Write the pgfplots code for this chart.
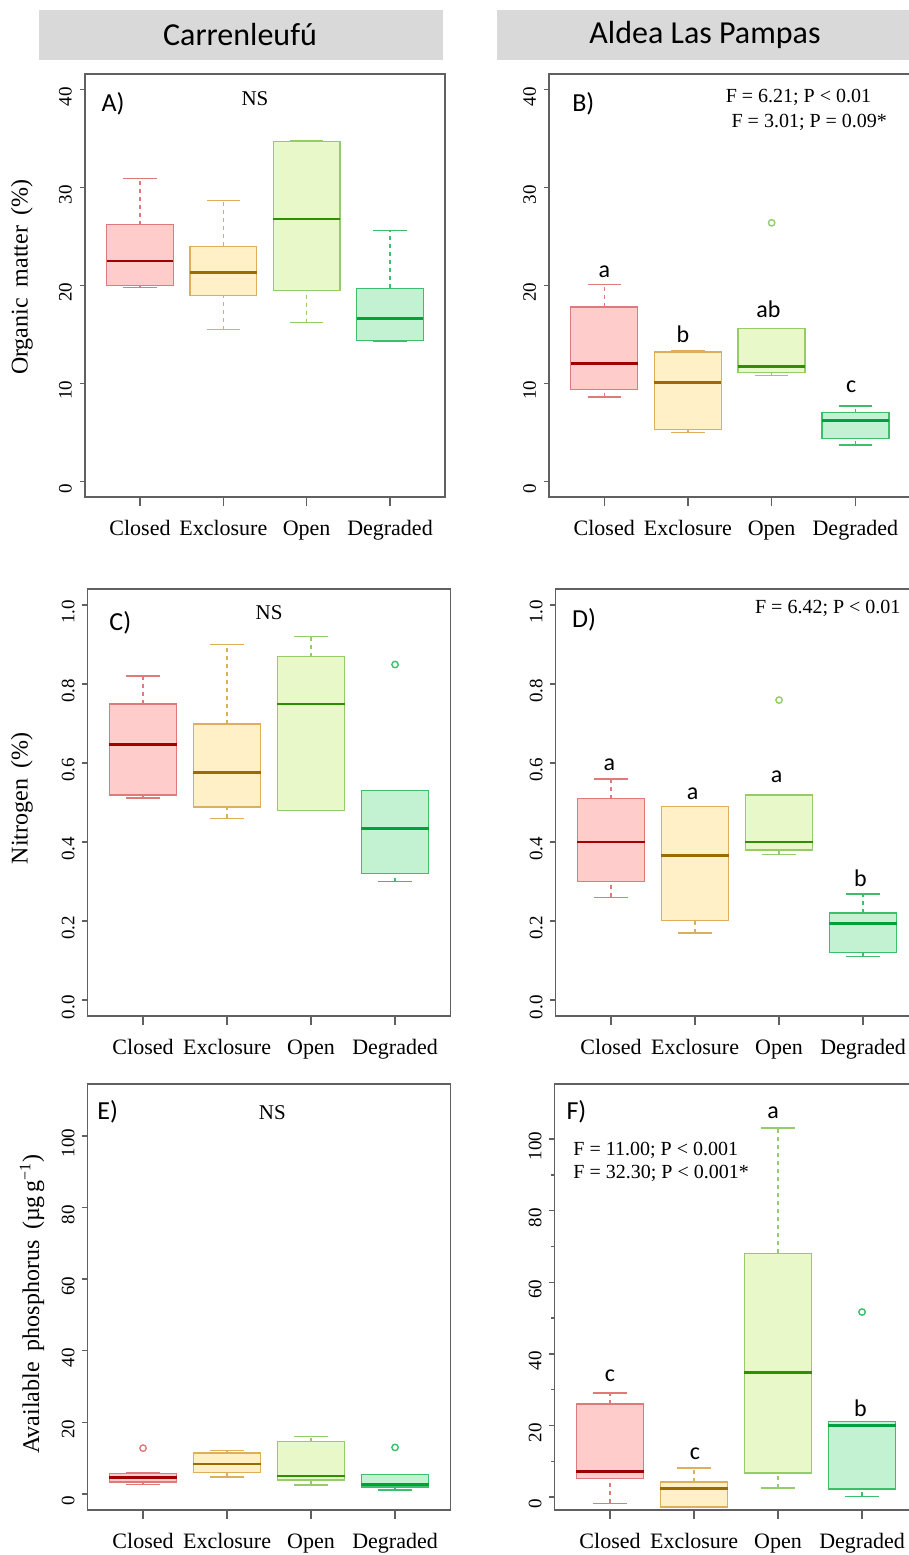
\documentclass[border=0pt]{standalone}
\usepackage{fontspec}
\setmainfont{Liberation Serif}
\newfontfamily\calfont{Carlito}
\usepackage{pgfplots}
\pgfplotsset{compat=1.18}
\usepgfplotslibrary{statistics}

\definecolor{framegray}{HTML}{606060}
\definecolor{hdrgray}{HTML}{D9D9D9}
\definecolor{cFill}{HTML}{FFCCCC}\definecolor{cLine}{HTML}{E07A7A}\definecolor{cMed}{HTML}{A00000}
\definecolor{eFill}{HTML}{FFF0C8}\definecolor{eLine}{HTML}{DDAE5C}\definecolor{eMed}{HTML}{9C6B00}
\definecolor{oFill}{HTML}{E8F8C8}\definecolor{oLine}{HTML}{96CC68}\definecolor{oMed}{HTML}{2F8F00}
\definecolor{dFill}{HTML}{C2F2D2}\definecolor{dLine}{HTML}{3CBE6C}\definecolor{dMed}{HTML}{00A03C}

\pgfplotsset{
  boxplot/draw direction=y,
  boxplot/draw/lower whisker/.code={%
    \draw[/pgfplots/boxplot/every whisker/.try, dash pattern=on 2pt off 2pt]
      (boxplot box cs:\pgfplotsboxplotvalue{lower whisker},0.5) -- (boxplot box cs:\pgfplotsboxplotvalue{lower quartile},0.5);
    \draw[/pgfplots/boxplot/every whisker/.try]
      (boxplot whisker cs:\pgfplotsboxplotvalue{lower whisker},0) -- (boxplot whisker cs:\pgfplotsboxplotvalue{lower whisker},1);
  },
  boxplot/draw/upper whisker/.code={%
    \draw[/pgfplots/boxplot/every whisker/.try, dash pattern=on 2pt off 2pt]
      (boxplot box cs:\pgfplotsboxplotvalue{upper quartile},0.5) -- (boxplot box cs:\pgfplotsboxplotvalue{upper whisker},0.5);
    \draw[/pgfplots/boxplot/every whisker/.try]
      (boxplot whisker cs:\pgfplotsboxplotvalue{upper whisker},0) -- (boxplot whisker cs:\pgfplotsboxplotvalue{upper whisker},1);
  },
  myaxis/.style={
    scale only axis, anchor=south west, clip=false,
    xmin=0.34, xmax=4.66,
    xtick={1,2,3,4}, xticklabels={Closed,Exclosure,Open,Degraded},
    tick pos=left, tick align=outside,
    axis line style={draw=framegray, line width=0.7pt},
    major tick length=3pt,
    every tick/.style={draw=framegray, line width=0.7pt},
    xtick style={/pgfplots/major tick length=4.3pt},
    ytick style={/pgfplots/major tick length=2.7pt},
    x tick label style={font=\fontsize{11}{13}\selectfont, yshift=-5.3pt},
    y tick label style={font=\fontsize{9.5}{11}\selectfont, rotate=90, anchor=south, xshift=-3.5pt},
    /pgf/number format/assume math mode=true,
    ylabel style={font=\fontsize{12}{14}\selectfont, anchor=center},
  },
}

\newcommand{\bx}[8]{%
  \addplot[draw=#2Line, line width=0.7pt, mark=o, mark size=1.6pt,
    mark options={solid, draw=#2Line, line width=0.7pt},
    boxplot prepared={draw position=#1, lower whisker=#3, lower quartile=#4,
      median=#5, upper quartile=#6, upper whisker=#7,
      box extend=0.8, whisker extend=0.4,
      every box/.style={fill=#2Fill, draw=#2Line, line width=0.7pt},
      every median/.style={draw=#2Med, line width=1.4pt},
      every whisker/.style={draw=#2Line, line width=0.7pt}}]
    coordinates {#8};
}
\newcommand{\plab}[1]{{\calfont\fontsize{12}{14}\selectfont #1}}
\newcommand{\tlab}[1]{{\calfont\fontsize{13}{15}\selectfont #1}}

\begin{document}
\begin{tikzpicture}
\useasboundingbox (0,0) rectangle (454.5pt,777.5pt);
% headers
\fill[hdrgray] (19.5pt,747.5pt) rectangle (221.5pt,772.5pt);
\fill[hdrgray] (248.5pt,747.5pt) rectangle (460pt,772.5pt);
\node[font=\calfont\fontsize{16}{19}\selectfont] at (120pt,760pt) {Carrenleufú};
\node[font=\calfont\fontsize{16}{19}\selectfont] at (352.5pt,760pt) {Aldea Las Pampas};

% A
\begin{axis}[myaxis, at={(42.5pt,529pt)}, width=180pt, height=211.5pt,
  ymin=-1.6, ymax=41.6, ytick={0,10,20,30,40},
  ylabel={Organic\hspace{0.45em}matter\hspace{0.45em}(\%)},
  ylabel style={at={(axis description cs:-0.175,0.52)}}]
\bx{1}{c}{19.8}{20.0}{22.5}{26.2}{30.9}{}
\bx{2}{e}{15.5}{19.0}{21.3}{24.0}{28.7}{}
\bx{3}{o}{16.2}{19.5}{26.8}{34.7}{34.8}{}
\bx{4}{d}{14.3}{14.4}{16.6}{19.7}{25.6}{}
\node[inner sep=0] at (axis cs:0.676,38.6) {\tlab{A)}};
\node[inner sep=0, font=\fontsize{10.5}{12}\selectfont] at (axis cs:2.38,39.1) {NS};
\end{axis}

% B
\begin{axis}[myaxis, at={(274.5pt,529pt)}, width=180.8pt, height=211.5pt,
  ymin=-1.6, ymax=41.6, ytick={0,10,20,30,40}]
\bx{1}{c}{8.6}{9.4}{12.0}{17.8}{20.1}{}
\bx{2}{e}{5.0}{5.3}{10.1}{13.2}{13.3}{}
\bx{3}{o}{10.8}{11.1}{11.7}{15.6}{15.6}{(0,26.4)}
\bx{4}{d}{3.7}{4.4}{6.2}{7.0}{7.7}{}
\node[inner sep=0] at (axis cs:0.75,38.6) {\tlab{B)}};
\node[inner sep=0, font=\fontsize{10}{12}\selectfont] at (axis cs:3.32,39.2) {F = 6.21;\ P < 0.01};
\node[inner sep=0, font=\fontsize{10}{12}\selectfont] at (axis cs:3.45,36.7) {F = 3.01;\ P = 0.09*};
\node[inner sep=0] at (axis cs:1,21.4) {\plab{a}};
\node[inner sep=0] at (axis cs:1.94,15.0) {\plab{b}};
\node[inner sep=0] at (axis cs:2.96,17.6) {\plab{ab}};
\node[inner sep=0] at (axis cs:3.95,9.7) {\plab{c}};
\end{axis}

% C
\begin{axis}[myaxis, at={(43.8pt,269.5pt)}, width=181.45pt, height=213.5pt,
  ymin=-0.04, ymax=1.04, ytick={0,0.2,0.4,0.6,0.8,1.0},
  yticklabel style={/pgf/number format/fixed, /pgf/number format/fixed zerofill, /pgf/number format/precision=1},
  ylabel={Nitrogen\hspace{0.45em}(\%)},
  ylabel style={at={(axis description cs:-0.181,0.51)}}]
\bx{1}{c}{0.511}{0.519}{0.646}{0.749}{0.820}{}
\bx{2}{e}{0.460}{0.489}{0.576}{0.699}{0.900}{}
\bx{3}{o}{0.480}{0.480}{0.749}{0.869}{0.920}{}
\bx{4}{d}{0.300}{0.320}{0.435}{0.531}{0.531}{(0,0.849)}
\node[inner sep=0] at (axis cs:0.73,0.954) {\tlab{C)}};
\node[inner sep=0, font=\fontsize{10.5}{12}\selectfont] at (axis cs:2.5,0.98) {NS};
\end{axis}

% D
\begin{axis}[myaxis, at={(277.8pt,269.5pt)}, width=181.45pt, height=213.5pt,
  ymin=-0.04, ymax=1.04, ytick={0,0.2,0.4,0.6,0.8,1.0},
  yticklabel style={/pgf/number format/fixed, /pgf/number format/fixed zerofill, /pgf/number format/precision=1}]
\bx{1}{c}{0.260}{0.300}{0.400}{0.510}{0.559}{}
\bx{2}{e}{0.170}{0.201}{0.365}{0.490}{0.490}{}
\bx{3}{o}{0.369}{0.380}{0.400}{0.519}{0.519}{(0,0.759)}
\bx{4}{d}{0.110}{0.121}{0.193}{0.221}{0.269}{}
\node[inner sep=0] at (axis cs:0.68,0.962) {\tlab{D)}};
\node[inner sep=0, font=\fontsize{10}{12}\selectfont] at (axis cs:3.58,0.99) {F = 6.42;\ P < 0.01};
\node[inner sep=0] at (axis cs:0.98,0.595) {\plab{a}};
\node[inner sep=0] at (axis cs:1.97,0.523) {\plab{a}};
\node[inner sep=0] at (axis cs:2.97,0.564) {\plab{a}};
\node[inner sep=0] at (axis cs:3.97,0.308) {\plab{b}};
\end{axis}

% E
\begin{axis}[myaxis, at={(43.8pt,22.5pt)}, width=181.45pt, height=213pt,
  ymin=-4.47, ymax=114.5, ytick={0,20,40,60,80,100},
  ylabel={Available\hspace{0.45em}phosphorus\hspace{0.45em}(µg\,g\textsuperscript{−1})},
  ylabel style={at={(axis description cs:-0.153,0.484)}}]
\bx{1}{c}{2.7}{3.4}{4.7}{5.8}{6.0}{(0,12.8)}
\bx{2}{e}{4.7}{6.0}{8.4}{11.5}{12.1}{}
\bx{3}{o}{2.5}{3.9}{5.0}{14.6}{16.0}{}
\bx{4}{d}{1.1}{1.9}{2.6}{5.5}{5.5}{(0,13.0)}
\node[inner sep=0] at (axis cs:0.58,106.7) {\tlab{E)}};
\node[inner sep=0, font=\fontsize{10.5}{12}\selectfont] at (axis cs:2.54,106.4) {NS};
\end{axis}

% F
\begin{axis}[myaxis, at={(277.3pt,22.5pt)}, width=181.45pt, height=213pt,
  ymin=-3.6, ymax=115.4, ytick={0,20,40,60,80,100},
  minor ytick={10,30,50,70,90}, minor tick length=1.8pt]
\bx{1}{c}{-1.7}{5.2}{7.2}{26.0}{29.1}{}
\bx{2}{e}{-2.8}{-2.8}{2.3}{4.2}{8.1}{}
\bx{3}{o}{2.5}{6.7}{34.7}{68.1}{103.1}{}
\bx{4}{d}{0.2}{2.3}{20.0}{21.1}{21.1}{(0,51.7)}
\node[inner sep=0] at (axis cs:0.60,107.6) {\tlab{F)}};
\node[inner sep=0, anchor=west, font=\fontsize{10}{12}\selectfont] at (axis cs:0.56,96.9) {F = 11.00;\ P < 0.001};
\node[inner sep=0, anchor=west, font=\fontsize{10}{12}\selectfont] at (axis cs:0.56,90.4) {F = 32.30;\ P < 0.001*};
\node[inner sep=0] at (axis cs:1,33.8) {\plab{c}};
\node[inner sep=0] at (axis cs:2.01,12.0) {\plab{c}};
\node[inner sep=0] at (axis cs:2.94,107.5) {\plab{a}};
\node[inner sep=0] at (axis cs:3.98,24.8) {\plab{b}};
\end{axis}
\end{tikzpicture}
\end{document}
